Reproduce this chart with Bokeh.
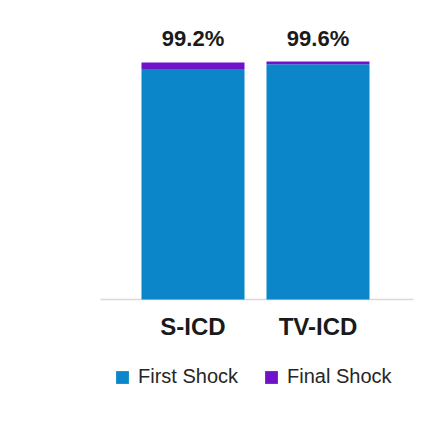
from bokeh.plotting import figure
from bokeh.models import ColumnDataSource, Range1d, Legend, LegendItem
from bokeh.core.properties import value
from bokeh.embed import file_html
from bokeh.resources import INLINE

categories = ["S-ICD", "TV-ICD"]
first_shock = [96.4, 98.4]
final_shock = [2.8, 1.2]
total_labels = ["99.2%", "99.6%"]

xs = [1, 2]
totals = [a + b for a, b in zip(first_shock, final_shock)]

source = ColumnDataSource(dict(
    x=xs,
    cat=categories,
    first=first_shock,
    total=totals,
    label=total_labels,
    label_y=[t + 9.8 for t in totals],
    cat_y=[-11.5] * len(xs),
))

# the whole canvas is the frame; axis line, tick labels and legend drawn by hand
p = figure(width=418, height=407, output_backend="svg", toolbar_location=None,
           x_range=Range1d(-0.54, 2.804), y_range=Range1d(-45.19, 125.1),
           min_border=0)

blue = "#0a86c9"
purple = "#7012c9"

# baseline
p.segment(x0=[0.26], y0=[0], x1=[2.764], y1=[0], line_color="#d9d9d9", line_width=1.5)

r1 = p.vbar(x="x", bottom=0, top="first", width=0.824, source=source,
            fill_color=blue, line_color=None)
r2 = p.vbar(x="x", bottom="first", top="total", width=0.824, source=source,
            fill_color=purple, line_color=None)

p.text(x="x", y="label_y", text="label", source=source,
       text_align="center", text_baseline="middle",
       text_font=value("Liberation Sans"), text_font_size="22px",
       text_font_style="bold", text_color="#1a1a1a")

p.text(x="x", y="cat_y", text="cat", source=source,
       text_align="center", text_baseline="middle",
       text_font=value("Liberation Sans"), text_font_size="24px",
       text_font_style="bold", text_color="#1a1a1a")

p.axis.visible = False
p.grid.visible = False
p.outline_line_color = None

legend = Legend(items=[LegendItem(label="First Shock", renderers=[r1]),
                       LegendItem(label="Final Shock", renderers=[r2])],
                orientation="horizontal", location=(114, 19),
                padding=0, margin=0, label_standoff=8,
                label_text_font="Liberation Sans", label_text_font_size="20px",
                label_text_color="#262626", glyph_width=16, glyph_height=16,
                spacing=25, border_line_color=None, background_fill_alpha=0)
p.add_layout(legend)

open("out.html", "w").write(file_html(p, INLINE))
